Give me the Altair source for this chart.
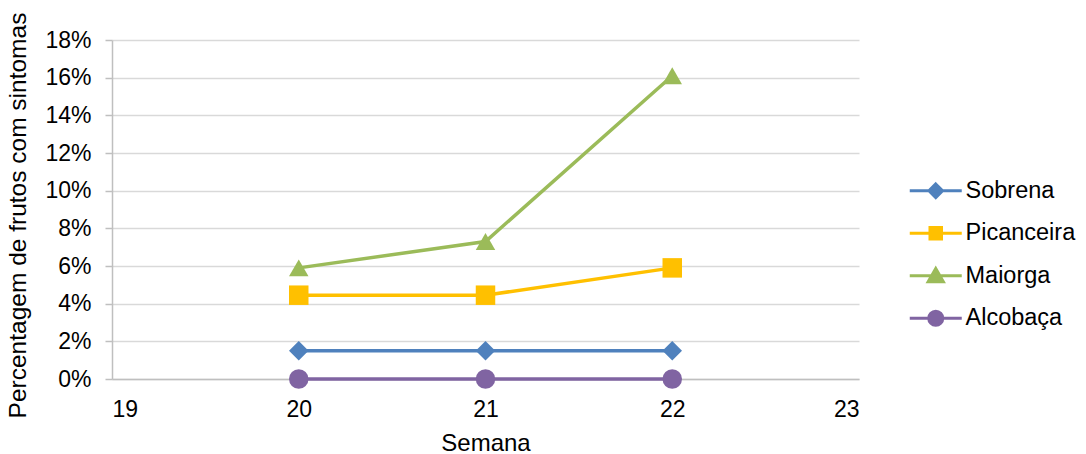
import altair as alt
import pandas as pd

# ---- data ----
semana = [20, 21, 22]
series = ["Sobrena", "Picanceira", "Maiorga", "Alcobaça"]
sobrena = [0.015, 0.015, 0.015]
picanceira = [0.0445, 0.0445, 0.059]
maiorga = [0.059, 0.073, 0.161]
alcobaca = [0.0, 0.0, 0.0]

colors = ["#4F81BD", "#FFC000", "#9BBB59", "#8064A2"]
shapes = ["diamond", "square", "triangle-up", "circle"]
line_widths = [3.5, 3.5, 3.5, 2.5]
# legend symbols: a line segment with the marker in its middle
legend_shapes = [
    "M-3.25,0H3.25M0,-0.85L0.85,0L0,0.85L-0.85,0Z",
    "M-3.25,0H3.25M-0.72,-0.72H0.72V0.72H-0.72Z",
    "M-3.25,0H3.25M0,-0.9L0.95,0.75H-0.95Z",
    "M-3.25,0H3.25M-0.88,0A0.88,0.88,0,1,1,0.88,0A0.88,0.88,0,1,1,-0.88,0Z",
]
y_ticks = [0, 0.02, 0.04, 0.06, 0.08, 0.10, 0.12, 0.14, 0.16, 0.18]
x_ticks = [19, 20, 21, 22, 23]

rows = []
for name, vals in zip(series, [sobrena, picanceira, maiorga, alcobaca]):
    for s, v in zip(semana, vals):
        rows.append({"Série": name, "Semana": s, "Valor": v})
df = pd.DataFrame(rows)

FONT = "Liberation Sans"

x_enc = alt.X(
    "Semana:Q",
    scale=alt.Scale(domain=[19, 23], nice=False, zero=False),
    axis=alt.Axis(
        values=x_ticks, tickCount=len(x_ticks), format="d", title="Semana", grid=False, ticks=False,
        labelFontSize=23, labelPadding=19, titleFontSize=24, titlePadding=10,
        titleFontWeight="normal", domainColor="#bfbfbf", domainWidth=1.5,
        labelOverlap=False,
    ),
)
y_enc = alt.Y(
    "Valor:Q",
    scale=alt.Scale(domain=[0, 0.18], nice=False),
    axis=alt.Axis(
        values=y_ticks, tickCount=len(y_ticks), format=".0%",
        title="Percentagem de frutos com sintomas",
        grid=True, gridColor="#d9d9d9", gridWidth=1.5,
        ticks=True, tickColor="#bfbfbf", tickSize=7, tickWidth=1.5,
        labelFontSize=23, labelPadding=14, titleFontSize=24.5, titlePadding=14,
        titleY=175, titleFontWeight="normal", domainColor="#bfbfbf", domainWidth=1.5,
        labelOverlap=False, labelBound=False,
    ),
)
color_scale = alt.Scale(domain=series, range=colors)

lines = alt.Chart(df).mark_line().encode(
    x=x_enc, y=y_enc,
    color=alt.Color("Série:N", scale=color_scale, legend=None),
    strokeWidth=alt.StrokeWidth("Série:N", scale=alt.Scale(domain=series, range=line_widths), legend=None),
    detail="Série:N",
)
points = alt.Chart(df).mark_point(filled=True, size=380, opacity=1).encode(
    x="Semana:Q", y="Valor:Q",
    color=alt.Color("Série:N", scale=color_scale, legend=None),
    shape=alt.Shape("Série:N", scale=alt.Scale(domain=series, range=shapes), legend=None),
)
legend_layer = alt.Chart(df).mark_point(filled=True, size=256, strokeWidth=3, opacity=1).encode(
    x="Semana:Q", y="Valor:Q",
    fill=alt.Fill("Série:N", scale=alt.Scale(domain=series, range=colors), legend=alt.Legend(title=None)),
    stroke=alt.Stroke("Série:N", scale=alt.Scale(domain=series, range=colors), legend=alt.Legend(title=None)),
    shape=alt.Shape("Série:N", scale=alt.Scale(domain=series, range=legend_shapes), legend=alt.Legend(title=None)),
).transform_filter("false")

chart = alt.layer(lines, points, legend_layer).resolve_scale(
    shape="independent", fill="independent", stroke="independent"
).properties(
    width=747,
    height=339,
    autosize=alt.AutoSizeParams(type="none"),
    padding={"left": 104, "top": 32, "right": 219, "bottom": 75},
    title=alt.TitleParams(
        "sintomas/semana/pomar", fontSize=29, fontWeight="bold", color="#000000",
        anchor="middle", dx=53, dy=6, offset=8, baseline="alphabetic", font=FONT,
    ),
).configure(
    font=FONT,
).configure_axis(
    labelColor="#000000", titleColor="#000000", labelFont=FONT, titleFont=FONT,
).configure_legend(
    orient="none", legendX=812, legendY=139, padding=0,
    labelFontSize=23.5, labelColor="#000000", labelFont=FONT,
    labelOffset=18, rowPadding=16.5, symbolSize=256, symbolStrokeWidth=3,
    symbolFillColor="#000000", symbolStrokeColor="#000000", symbolOpacity=1,
).configure_view(stroke=None)

chart.save("out.html", embed_options={"renderer": "svg", "actions": False})
